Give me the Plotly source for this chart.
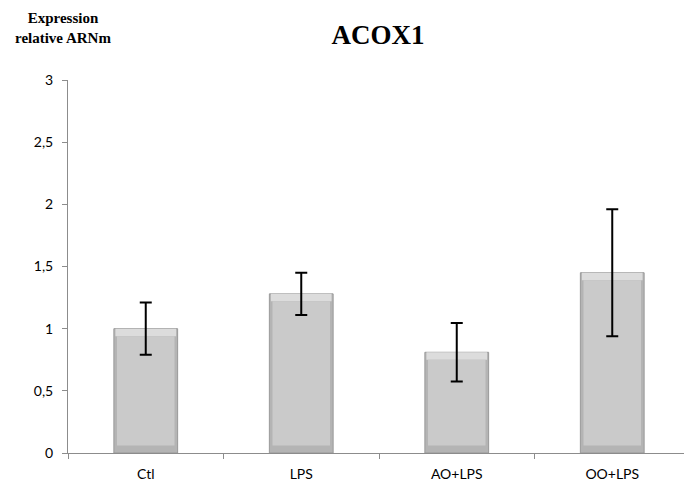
import plotly.graph_objects as go

categories = ["Ctl", "LPS", "AO+LPS", "OO+LPS"]
values = [1.0, 1.28, 0.81, 1.45]
errors = [0.21, 0.17, 0.235, 0.51]
tick_vals = [0, 0.5, 1, 1.5, 2, 2.5, 3]
tick_text = ["0", "0,5", "1", "1,5", "2", "2,5", "3"]

bevel = 0.06
inner_base = [bevel for v in values]
inner_h = [v - 2 * bevel for v in values]
top_base = [v - bevel for v in values]
top_h = [bevel for v in values]

fig = go.Figure()
fig.add_trace(go.Bar(
    x=categories, y=values, width=0.41,
    marker=dict(color="#b4b4b4", line=dict(color="#999999", width=1)),
    hoverinfo="skip",
))
fig.add_trace(go.Bar(
    x=categories, y=top_h, base=top_base, width=0.39,
    marker=dict(color="#dcdcdc", line=dict(width=0)),
    hoverinfo="skip",
))
fig.add_trace(go.Bar(
    x=categories, y=inner_h, base=inner_base, width=0.37,
    marker=dict(color="#cacaca", line=dict(width=0)),
    error_y=dict(type="data", symmetric=False,
                 array=[e + bevel for e in errors],
                 arrayminus=[e - bevel for e in errors],
                 visible=True, color="black", thickness=2, width=6),
))

fig.update_layout(
    width=684, height=478,
    margin=dict(l=60, r=2, t=72, b=33),
    paper_bgcolor="white", plot_bgcolor="white",
    showlegend=False, barmode="overlay",
    title=dict(text="<b>ACOX1</b>", x=0.541, xanchor="center", y=0.945, yanchor="middle",
               font=dict(family="Liberation Serif", size=27, color="black")),
    font=dict(family="Lato", size=14, color="black"),
)
fig.add_annotation(
    text="<b>Expression<br>relative ARNm</b>", xref="paper", yref="paper",
    x=-0.008, y=1.14, xanchor="center", yanchor="middle", showarrow=False,
    font=dict(family="Liberation Serif", size=15, color="black"), align="center",
)
fig.update_yaxes(
    range=[0, 3], tickvals=tick_vals, ticktext=tick_text,
    showgrid=False, showline=True, linecolor="#8c8c8c", linewidth=1,
    ticks="outside", ticklen=5, tickcolor="#8c8c8c", zeroline=False,
    ticklabelstandoff=6,
)
fig.update_xaxes(
    showgrid=False, showline=True, linecolor="#8c8c8c", linewidth=1,
    ticks="outside", ticklen=5, tickcolor="#8c8c8c", tickson="boundaries",
    ticklabelstandoff=8,
)

fig.write_html("out.html")
